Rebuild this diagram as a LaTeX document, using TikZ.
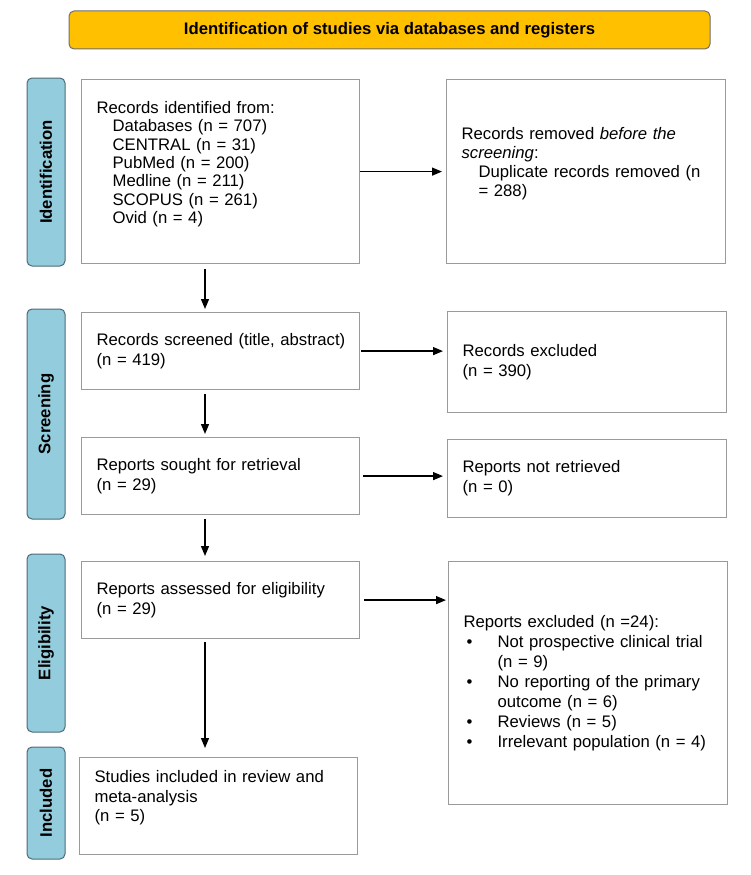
\documentclass[tikz,border=0pt]{standalone}
\usepackage{fontspec}
\setmainfont{Liberation Sans}
\usetikzlibrary{arrows.meta,calc}
\definecolor{hdr}{HTML}{FFC000}
\definecolor{hdrb}{HTML}{6E6E6E}
\definecolor{lbl}{HTML}{93CDDD}
\definecolor{lblb}{HTML}{4F6A74}
\definecolor{bxb}{HTML}{9A9A9A}
\newcommand\pbul{\makebox[34pt][l]{\hspace{3pt}\textbullet}}
\begin{document}
\begin{tikzpicture}[x=1pt,y=-1pt,
  font=\fontsize{16.7}{19.3}\selectfont,
  box/.style={draw=bxb, line width=1.2pt, fill=white, rectangle, anchor=north west,
    inner xsep=15pt, inner ysep=0pt, align=left},
  lane/.style={draw=lblb, fill=lbl, line width=1pt, rounded corners=5pt, rotate=90,
    minimum height=38pt, inner sep=0pt, font=\fontsize{16.7}{19.3}\selectfont\bfseries},
  arr/.style={line width=1.3pt, -{Triangle[length=10pt,width=8pt]}}]
\useasboundingbox (0,0) rectangle (750,875);

% header
\node[draw=hdrb, fill=hdr, line width=1pt, rounded corners=5pt, minimum width=641pt,
  minimum height=38pt, inner sep=0pt, font=\fontsize{16.7}{19.3}\selectfont\bfseries]
  (hd) at (389.5,30) {Identification of studies via databases and registers};

% phase labels
\node[lane, minimum width=188pt] (l1) at (46,172) {Identification};
\node[lane, minimum width=210pt] (l2) at (46,414) {Screening};
\node[lane, minimum width=178pt] (l3) at (46,643) {Eligibility};
\node[lane, minimum width=112pt] (l4) at (46,803) {Included};

% boxes
\node[box, minimum width=278pt, minimum height=184pt, text width=248pt,
  font=\fontsize{16.7}{18.4}\selectfont] (b1) at (81,79)
  {Records identified from:\\
   \hspace*{16pt}Databases (n = 707)\\
   \hspace*{16pt}CENTRAL (n = 31)\\
   \hspace*{16pt}PubMed (n = 200)\\
   \hspace*{16pt}Medline (n = 211)\\
   \hspace*{16pt}SCOPUS (n = 261)\\
   \hspace*{16pt}Ovid (n = 4)\\
   \mbox{}};
\node[box, minimum width=279pt, minimum height=184pt, text width=249pt] (b2) at (446,79)
  {Records removed \textit{before the}\\
   \textit{screening}:\\
   \hspace*{17pt}\mbox{Duplicate records removed (n}\\
   \hspace*{17pt}= 288)\\
   \mbox{}};
\node[box, minimum width=278pt, minimum height=77pt, text width=248pt] (b3) at (81,312)
  {\mbox{Records screened (title, abstract)}\\(n = 419)};
\node[box, minimum width=279pt, minimum height=101pt, text width=249pt,
  font=\fontsize{16.7}{20}\selectfont] (b4) at (447,311)
  {Records excluded\\(n = 390)};
\node[box, minimum width=278pt, minimum height=77pt, text width=248pt] (b5) at (81,437)
  {Reports sought for retrieval\\(n = 29)};
\node[box, minimum width=279pt, minimum height=78pt, text width=249pt,
  font=\fontsize{16.7}{20}\selectfont] (b6) at (447,439)
  {Reports not retrieved\\(n = 0)};
\node[box, minimum width=278pt, minimum height=77pt, text width=248pt] (b7) at (81,561)
  {Reports assessed for eligibility\\(n = 29)};
\node[box, minimum width=279pt, minimum height=243pt, text width=249pt,
  font=\fontsize{16.7}{20}\selectfont] (b8) at (448,561)
  {Reports excluded (n =24):\\
   \pbul Not prospective clinical trial\\
   \hspace*{34pt}(n = 9)\\
   \pbul No reporting of the primary\\
   \hspace*{34pt}outcome (n = 6)\\
   \pbul Reviews (n = 5)\\
   \pbul Irrelevant population (n = 4)};
\node[box, minimum width=278pt, minimum height=97pt, text width=248pt,
  font=\fontsize{16.7}{19.5}\selectfont] (b9) at (79,757)
  {Studies included in review and\\
   meta-analysis\\
   (n = 5)\\
   \mbox{}};

% connectors
\coordinate (cx) at (205,0);
\draw[arr, shorten <=5pt, shorten >=3pt] (b1.south -| cx) -- (b3.north -| cx);
\draw[arr, shorten <=4pt, shorten >=3pt] (b3.south -| cx) -- (b5.north -| cx);
\draw[arr, shorten <=4pt, shorten >=5pt] (b5.south -| cx) -- (b7.north -| cx);
\draw[arr, shorten <=3pt, shorten >=9pt] (b7.south -| cx) -- (b9.north -| cx);

\draw[arr, shorten >=4pt] (b1.east) -- (b1.east -| b2.west);
\draw[arr, shorten <=1pt, shorten >=4pt] (b3.east) -- (b3.east -| b4.west);
\draw[arr, shorten <=3pt, shorten >=4pt] (b5.east) -- (b5.east -| b6.west);
\draw[arr, shorten <=4pt, shorten >=2pt] (b7.east) -- (b7.east -| b8.west);
\end{tikzpicture}
\end{document}
